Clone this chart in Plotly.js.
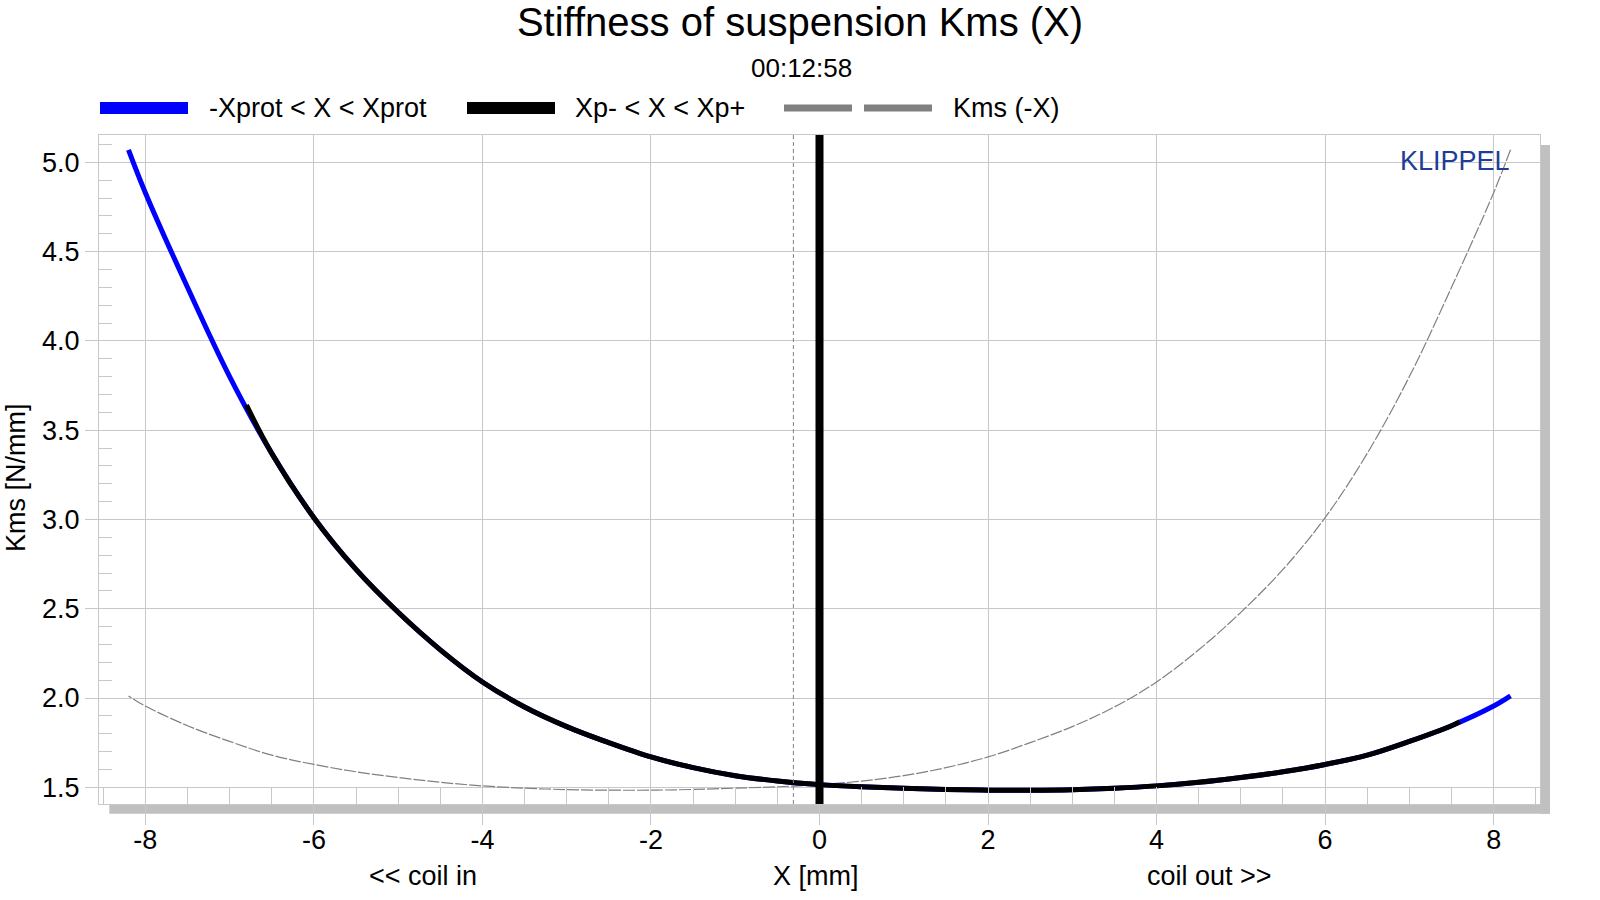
<!DOCTYPE html>
<html><head><meta charset="utf-8">
<script src="https://cdn.plot.ly/plotly-3.0.1.min.js"></script>
<style>html,body{margin:0;padding:0;background:#fff;} #chart{width:1600px;height:900px;}</style>
</head><body><div id="chart"></div>
<script>
// ---- data ----
const xValues = [-8.2, -8, -7.5, -7, -6.5, -6, -5.5, -5, -4.5, -4, -3.5, -3, -2.5, -2, -1.5, -1, -0.5, 0,
                 0.5, 1, 1.5, 2, 2.5, 3, 3.5, 4, 4.5, 5, 5.5, 6, 6.5, 7, 7.5, 8, 8.2];
const kmsValues = [5.07, 4.83, 4.30, 3.80, 3.37, 3.01, 2.72, 2.48, 2.27, 2.09, 1.95, 1.84, 1.75, 1.67, 1.61, 1.565, 1.535, 1.515,
                   1.503, 1.495, 1.488, 1.484, 1.484, 1.487, 1.495, 1.508, 1.528, 1.555, 1.587, 1.628, 1.680, 1.757, 1.845, 1.955, 2.012];
const xpX = [-6.8, -6.5, -6, -5.5, -5, -4.5, -4, -3.5, -3, -2.5, -2, -1.5, -1, -0.5, 0,
             0.5, 1, 1.5, 2, 2.5, 3, 3.5, 4, 4.5, 5, 5.5, 6, 6.5, 7, 7.5, 7.6];
const xpKms = [3.64, 3.37, 3.01, 2.72, 2.48, 2.27, 2.09, 1.95, 1.84, 1.75, 1.67, 1.61, 1.565, 1.535, 1.515,
               1.503, 1.495, 1.488, 1.484, 1.484, 1.487, 1.495, 1.508, 1.528, 1.555, 1.587, 1.628, 1.680, 1.757, 1.845, 1.868];
const restPosition = 0;
const offsetPosition = -0.31;
const xTickVals = [-8, -6, -4, -2, 0, 2, 4, 6, 8];
const xTickText = ['-8', '-6', '-4', '-2', '0', '2', '4', '6', '8'];
const yTickVals = [1.5, 2.0, 2.5, 3.0, 3.5, 4.0, 4.5, 5.0];
const yTickText = ['1.5', '2.0', '2.5', '3.0', '3.5', '4.0', '4.5', '5.0'];
const legendNames = ['-Xprot < X < Xprot', 'Xp- < X < Xp+', 'Kms (-X)'];
const titleText = 'Stiffness of suspension Kms (X)';
const subtitleText = '00:12:58';

// ---- layout helpers (pixel -> paper) ----
const L = 99, R = 1540, T = 135, B = 804;
const W = R - L, H = B - T;
const px = v => (v - L) / W;
const py = v => (B - v) / H;
const FONT = 'Arial, "Liberation Sans", sans-serif';
const GRID = '#c8c8c8';

const traces = [
  { x: xValues.map(v => -v), y: kmsValues, mode: 'lines', name: legendNames[2],
    line: { color: '#808080', width: 1.2, dash: '12px,2px', shape: 'spline' }, hoverinfo: 'skip' },
  { x: xValues, y: kmsValues, mode: 'lines', name: legendNames[0],
    line: { color: '#0000ff', width: 5, shape: 'spline' } },
  { x: xpX, y: xpKms, mode: 'lines', name: legendNames[1],
    line: { color: '#000000', width: 5, shape: 'spline' } }
];

const shapes = [
  { type: 'rect', xref: 'paper', yref: 'paper', x0: px(109.3), x1: px(1550), y0: py(813.7), y1: py(804),
    fillcolor: '#c0c0c0', line: { width: 0 }, layer: 'below' },
  { type: 'rect', xref: 'paper', yref: 'paper', x0: px(1540.5), x1: px(1550), y0: py(813.7), y1: py(145),
    fillcolor: '#c0c0c0', line: { width: 0 }, layer: 'below' },
  { type: 'line', xref: 'x', yref: 'paper', x0: offsetPosition, x1: offsetPosition, y0: 0, y1: 1,
    line: { color: '#808080', width: 1, dash: '4px,3px' } },
  { type: 'line', xref: 'x', yref: 'paper', x0: restPosition, x1: restPosition, y0: 0, y1: 1,
    line: { color: '#000000', width: 8 }, layer: 'above' },
  // legend samples
  { type: 'line', xref: 'paper', yref: 'paper', x0: px(100), x1: px(188), y0: py(108), y1: py(108),
    line: { color: '#0000ff', width: 12 } },
  { type: 'line', xref: 'paper', yref: 'paper', x0: px(467), x1: px(555), y0: py(108), y1: py(108),
    line: { color: '#000000', width: 12 } },
  { type: 'line', xref: 'paper', yref: 'paper', x0: px(784), x1: px(852), y0: py(108), y1: py(108),
    line: { color: '#808080', width: 7 } },
  { type: 'line', xref: 'paper', yref: 'paper', x0: px(864), x1: px(932), y0: py(108), y1: py(108),
    line: { color: '#808080', width: 7 } }
];

const txt = (text, x, y, opts) => Object.assign({
  text: text, xref: 'paper', yref: 'paper', x: px(x), y: py(y), showarrow: false,
  xanchor: 'left', yanchor: 'middle', font: { family: FONT, size: 27, color: '#000' }
}, opts || {});

const annotations = [
  txt(legendNames[0], 207, 108),
  txt(legendNames[1], 573, 108),
  txt(legendNames[2], 951, 108),
  txt(subtitleText, 801, 68, { xanchor: 'center', font: { family: FONT, size: 26, color: '#000' } }),
  txt('KLIPPEL', 1512, 161, { xanchor: 'right', font: { family: FONT, size: 27, color: '#1f3c96' } }),
  txt('<< coil in', 423, 876, { xanchor: 'center' }),
  txt('X [mm]', 816, 876, { xanchor: 'center' }),
  txt('coil out >>', 1209, 876, { xanchor: 'center' }),
  txt('Kms [N/mm]', 16, 478, { xanchor: 'center', textangle: -90 })
];

const layout = {
  width: 1600, height: 900,
  margin: { l: L, r: 1600 - R, t: T, b: 900 - B, autoexpand: false },
  paper_bgcolor: '#ffffff', plot_bgcolor: '#ffffff',
  showlegend: false,
  title: { text: titleText, x: 0.5, xref: 'container', xanchor: 'center',
           y: 1 - 22 / 900, yref: 'container', yanchor: 'middle',
           font: { family: FONT, size: 40, color: '#000' } },
  xaxis: {
    range: [-8.55, 8.55], tickvals: xTickVals, ticktext: xTickText,
    showgrid: true, gridcolor: GRID, gridwidth: 1, zeroline: false,
    showline: true, linecolor: GRID, linewidth: 1, mirror: true,
    ticks: 'outside', ticklen: 20, tickcolor: GRID, tickwidth: 1,
    ticklabelstandoff: -8,
    tickfont: { family: FONT, size: 27, color: '#000' },
    minor: { ticks: 'inside', dtick: 0.5, tick0: 0, ticklen: 17, tickcolor: GRID, tickwidth: 1, showgrid: false },
    fixedrange: true
  },
  yaxis: {
    range: [1.4065, 5.153], tickvals: yTickVals, ticktext: yTickText,
    showgrid: true, gridcolor: GRID, gridwidth: 1, zeroline: false,
    showline: true, linecolor: GRID, linewidth: 1, mirror: true,
    ticks: 'outside', ticklen: 13, tickcolor: GRID, tickwidth: 1,
    tickfont: { family: FONT, size: 27, color: '#000' },
    minor: { ticks: 'inside', dtick: 0.1, tick0: 1.5, ticklen: 13, tickcolor: GRID, tickwidth: 1, showgrid: false },
    fixedrange: true
  },
  shapes: shapes,
  annotations: annotations
};

Plotly.newPlot('chart', traces, layout, { displayModeBar: false, staticPlot: true });
</script>
</body></html>
